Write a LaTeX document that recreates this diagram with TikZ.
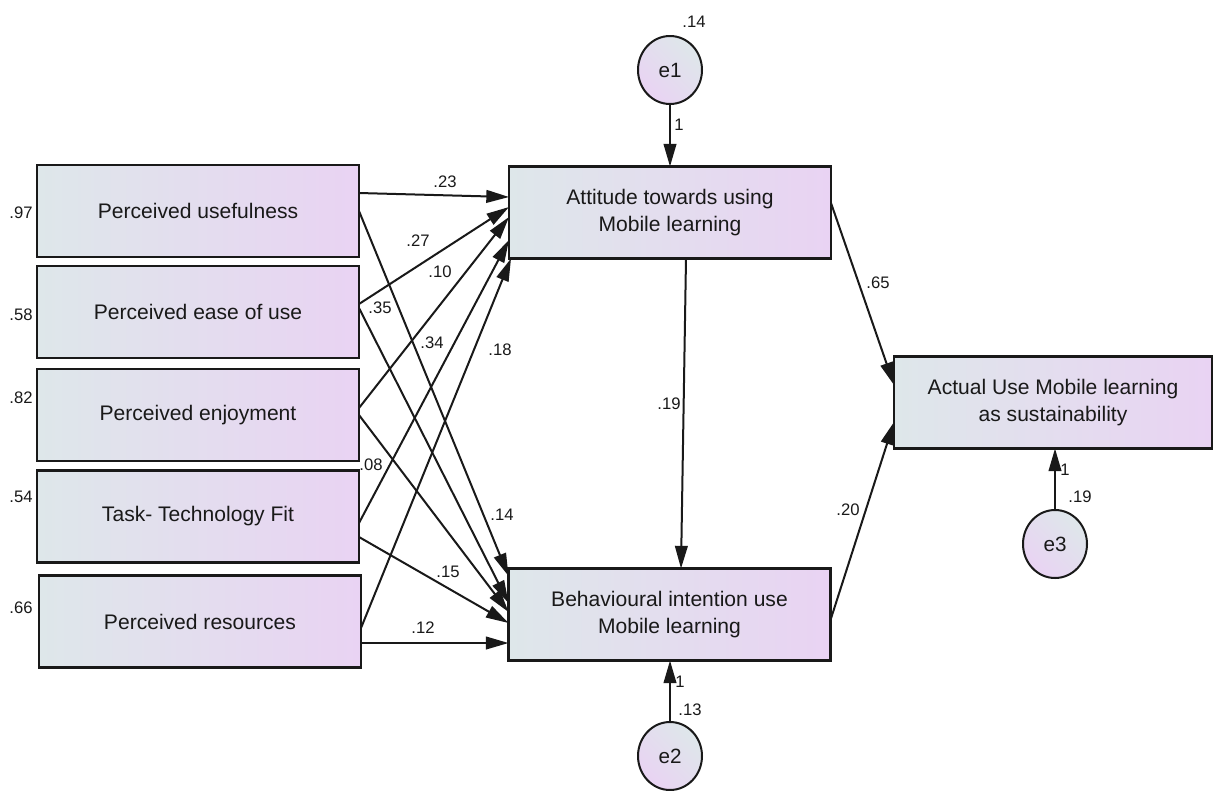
\documentclass[tikz,border=0pt]{standalone}
\usepackage{fontspec}
\setmainfont{Liberation Sans}
\usetikzlibrary{arrows.meta,calc,shapes.geometric}
\definecolor{shadeL}{RGB}{222,231,234}
\definecolor{shadeR}{RGB}{233,211,243}
\definecolor{ink}{RGB}{25,25,25}

\begin{document}
\begin{tikzpicture}[x=0.75pt,y=-0.75pt,
  varbox/.style={draw=black!90, line width=1.7pt, left color=shadeL, right color=shadeR,
    minimum width=241.5pt, minimum height=69pt, inner sep=0pt, outer sep=0pt,
    align=center, font=\fontsize{15.8}{20.3}\selectfont, text=ink},
  errnode/.style={ellipse, draw=black!90, line width=1.5pt, left color=shadeL, right color=shadeR,
    shading angle=-45, minimum width=48pt, minimum height=51pt, inner sep=0pt, outer sep=0pt,
    font=\fontsize{15.5}{18}\selectfont, text=ink},
  wire/.style={line width=1.5pt, draw=ink, -{Triangle[length=17pt,width=9.5pt]}},
  coef/.style={font=\fontsize{12.5}{14}\selectfont, text=ink, inner sep=0pt}
]
\useasboundingbox (0,0) rectangle (1214,790);

% observed variables
\node[varbox] (pu)   at (198,211)   {Perceived usefulness};
\node[varbox] (peou) at (198,312)   {Perceived ease of use};
\node[varbox] (pe)   at (198,415)   {Perceived enjoyment};
\node[varbox] (ttf)  at (198,516.5) {Task- Technology Fit};
\node[varbox] (pr)   at (200,621.5) {Perceived resources};
\node[varbox] (att)  at (670,212.5) {Attitude towards using\\Mobile learning};
\node[varbox] (bi)   at (669.5,614.5) {Behavioural intention use\\Mobile learning};
\node[varbox, minimum width=238.5pt] (act) at (1053,402.5) {Actual Use Mobile learning\\as sustainability};

% error terms
\node[errnode] (e1) at (670,70)   {e1};
\node[errnode] (e2) at (670,756)  {e2};
\node[errnode] (e3) at (1055,544) {e3};

% paths into attitude
\draw[wire] ($(pu.east)+(0,-18)$)   -- ($(att.west)+(0,-15.5)$);
\draw[wire] ($(peou.east)+(0,-8)$)  -- ($(att.west)+(0,-5.5)$);
\draw[wire] ($(pe.east)+(0,-7)$)    -- ($(att.west)+(0,4.5)$);
\draw[wire] ($(ttf.east)+(0,6.5)$)  -- ($(att.west)+(0,27.5)$);
\draw[wire] ($(pr.east)+(0,6.5)$)   -- ($(att.south west)+(2,0)$);

% paths into behavioural intention
\draw[wire] (pu.east)               -- ($(bi.west)+(0,-38.5)$);
\draw[wire] ($(peou.east)+(0,-4)$)  -- ($(bi.west)+(0,-11.5)$);
\draw[wire] (pe.east)               -- ($(bi.west)+(0,-2.5)$);
\draw[wire] ($(ttf.east)+(0,20.5)$) -- ($(bi.west)+(0,8.5)$);
\draw[wire] ($(pr.east)+(0,21.5)$)  -- ($(bi.west)+(0,28.5)$);

% structural paths
\draw[wire] ($(att.south)+(16,0)$)  -- ($(bi.north)+(11.5,0)$);
\draw[wire] ($(att.east)+(0,-9.5)$) -- ($(act.west)+(0,-17.5)$);
\draw[wire] ($(bi.east)+(0,5.5)$)   -- ($(act.west)+(0,19.5)$);

% error paths
\draw[wire] (e1) -- (e1 |- att.north);
\draw[wire] (e2) -- (e2 |- bi.south);
\draw[wire] (e3) -- (e3 |- act.south);

% variances
\node[coef] (v1)  at (694,22)  {.14};
\node[coef] (v2)  at (21,213)  {.97};
\node[coef] (v3)  at (21,315)  {.58};
\node[coef] (v4)  at (21,398)  {.82};
\node[coef] (v5)  at (21,497)  {.54};
\node[coef] (v6)  at (21,608)  {.66};
\node[coef] (v7)  at (690,710) {.13};
\node[coef] (v8)  at (1080,497) {.19};

% weights
\node[coef] (w1)  at (679,125) {1};
\node[coef] (w2)  at (680,682) {1};
\node[coef] (w3)  at (1065,470) {1};
\node[coef] (c1)  at (445,182) {.23};
\node[coef] (c2)  at (418,241) {.27};
\node[coef] (c3)  at (440,272) {.10};
\node[coef] (c4)  at (380,308) {.35};
\node[coef] (c5)  at (432,343) {.34};
\node[coef] (c6)  at (500,350) {.18};
\node[coef] (c7)  at (371,465) {.08};
\node[coef] (c8)  at (502,515) {.14};
\node[coef] (c9)  at (448,572) {.15};
\node[coef] (c10) at (423,628) {.12};
\node[coef] (c11) at (669,404) {.19};
\node[coef] (c12) at (878,283) {.65};
\node[coef] (c13) at (848,510) {.20};
\end{tikzpicture}
\end{document}
